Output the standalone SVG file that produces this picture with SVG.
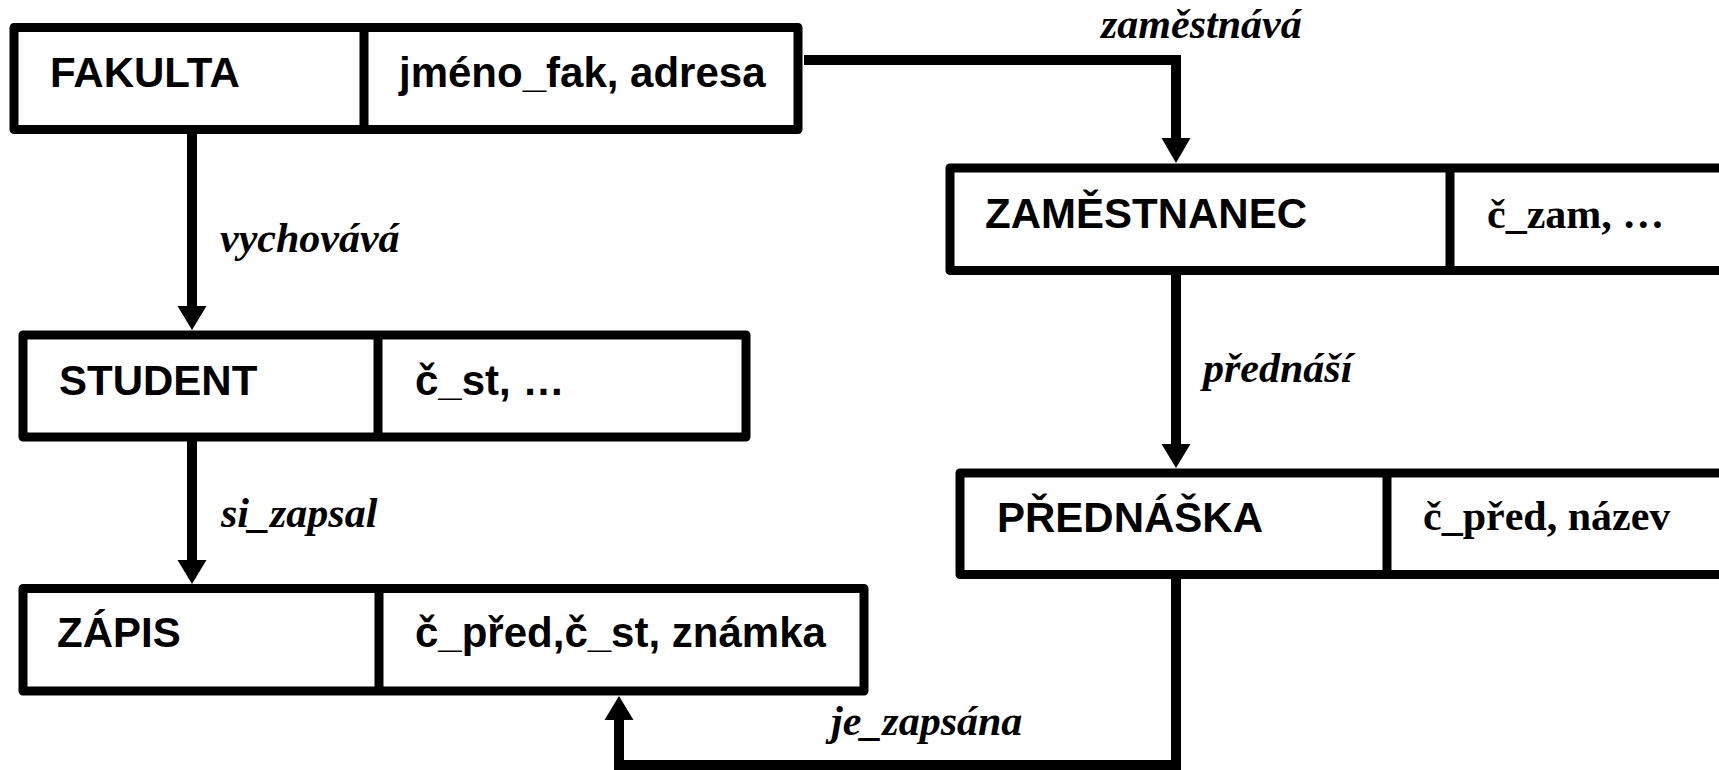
<svg xmlns="http://www.w3.org/2000/svg" width="1719" height="770" viewBox="0 0 1719 770">
  <style>
    .box { fill: #fff; stroke: #000; stroke-width: 9; stroke-linejoin: round; }
    .div { stroke: #000; stroke-width: 9; }
    .name { font-family: "Liberation Sans", Arial, sans-serif; font-weight: bold; font-size: 42px; fill: #000; }
    .attr-sans { font-family: "Liberation Sans", Arial, sans-serif; font-weight: bold; font-size: 42px; fill: #000; }
    .attr-serif { font-family: "Liberation Serif", "Times New Roman", serif; font-weight: bold; font-size: 42px; fill: #000; }
    .rel { font-family: "Liberation Serif", "Times New Roman", serif; font-weight: bold; font-style: italic; font-size: 42px; fill: #000; }
    .wire { fill: none; stroke: #000; stroke-width: 10; stroke-linejoin: miter; }
    .head { fill: #000; }
  </style>
  <rect width="1719" height="770" fill="#fff"/>

  <!-- relationship connectors -->
  <g id="connectors">
    <!-- FAKULTA vychovává STUDENT -->
    <path class="wire" d="M192,134 V310"/>
    <polygon class="head" points="177.5,306 206.5,306 192,330"/>
    <!-- STUDENT si_zapsal ZÁPIS -->
    <path class="wire" d="M192,441 V564"/>
    <polygon class="head" points="177.5,560 206.5,560 192,584"/>
    <!-- FAKULTA zaměstnává ZAMĚSTNANEC -->
    <path class="wire" d="M804,60 H1176 V142"/>
    <polygon class="head" points="1161.5,138 1190.5,138 1176,163"/>
    <!-- ZAMĚSTNANEC přednáší PŘEDNÁŠKA -->
    <path class="wire" d="M1176,275 V448"/>
    <polygon class="head" points="1161.5,444 1190.5,444 1176,468"/>
    <!-- PŘEDNÁŠKA je_zapsána ZÁPIS -->
    <path class="wire" d="M1176,579 V765 H619 V716"/>
    <polygon class="head" points="604.5,720 633.5,720 619,696"/>

    <text class="rel" x="1101" y="38">zaměstnává</text>
    <text class="rel" x="220" y="252">vychovává</text>
    <text class="rel" x="221" y="527">si_zapsal</text>
    <text class="rel" x="1203" y="382">přednáší</text>
    <text class="rel" x="831" y="735">je_zapsána</text>
  </g>

  <g id="fakulta">
    <rect class="box" x="14" y="27.5" width="784" height="102"/>
    <line class="div" x1="364" y1="27.5" x2="364" y2="129.5"/>
    <text class="name" x="50" y="87">FAKULTA</text>
    <text class="attr-sans" x="399" y="87">jméno_fak, adresa</text>
  </g>

  <g id="student">
    <rect class="box" x="23" y="335" width="723" height="102"/>
    <line class="div" x1="378" y1="335" x2="378" y2="437"/>
    <text class="name" x="59" y="395">STUDENT</text>
    <text class="attr-sans" x="415" y="395">č_st, …</text>
  </g>

  <g id="zapis">
    <rect class="box" x="23" y="588.5" width="841" height="102.5"/>
    <line class="div" x1="379" y1="588.5" x2="379" y2="691"/>
    <text class="name" x="57" y="647">ZÁPIS</text>
    <text class="attr-sans" x="415" y="647">č_před,č_st, známka</text>
  </g>

  <g id="zamestnanec">
    <rect class="box" x="950" y="168" width="800" height="102.5"/>
    <line class="div" x1="1450" y1="168" x2="1450" y2="270.5"/>
    <text class="name" x="985" y="228">ZAMĚSTNANEC</text>
    <text class="attr-serif" x="1487" y="227.5">č_zam, …</text>
  </g>

  <g id="prednaska">
    <rect class="box" x="960" y="473" width="800" height="101.5"/>
    <line class="div" x1="1387" y1="473" x2="1387" y2="574.5"/>
    <text class="name" x="997" y="531.5">PŘEDNÁŠKA</text>
    <text class="attr-serif" x="1423" y="530">č_před, název</text>
  </g>
</svg>
